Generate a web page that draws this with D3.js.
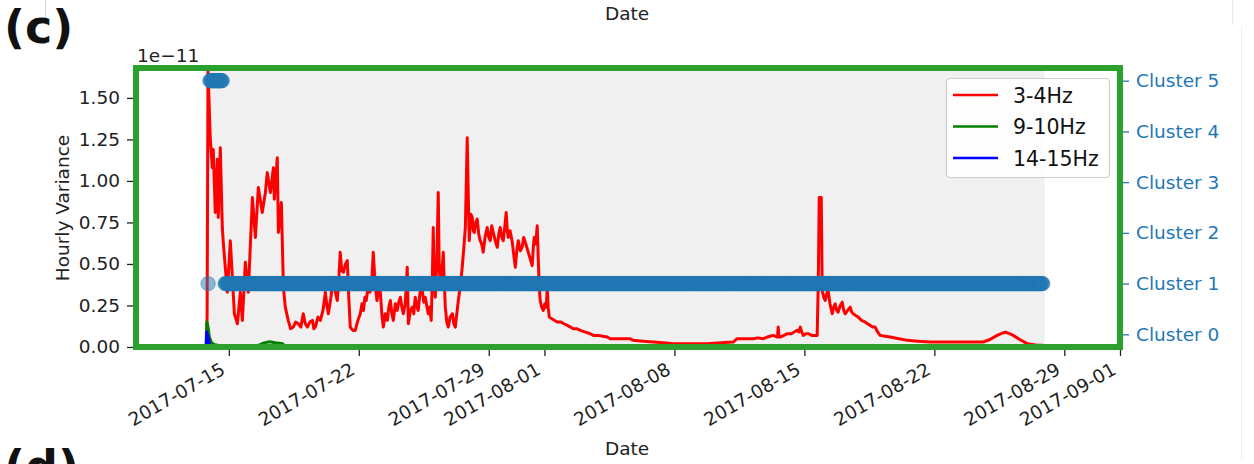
<!DOCTYPE html>
<html><head><meta charset="utf-8">
<script src="https://cdn.jsdelivr.net/npm/d3@7"></script>
<style>
body{margin:0;background:#fff;}
svg{display:block;font-family:"DejaVu Sans",sans-serif;}
</style></head><body>
<svg id="c" width="1254" height="464"></svg>
<script>
// ---------------- data ----------------
const baseDate = "2017-07-15";           // day offsets below are relative to this date
const xDomain = ["2017-07-10", "2017-09-01"];
const xTicks = ["2017-07-15","2017-07-22","2017-07-29","2017-08-01","2017-08-08","2017-08-15","2017-08-22","2017-08-29","2017-09-01"];
const yTicks = [0, 0.25, 0.5, 0.75, 1.0, 1.25, 1.5];
const yMax = 1.68;                        // in units of 1e-11
const clusterTicks = [0, 1, 2, 3, 4, 5];
const clusterLabels = ["Cluster 0","Cluster 1","Cluster 2","Cluster 3","Cluster 4","Cluster 5"];
const seriesNames = ["3-4Hz", "9-10Hz", "14-15Hz"];
const seriesColors = ["#ff0000", "#008000", "#0000ff"];

// [day offset, hourly variance (x1e-11)]
const series34 = [[-1.20,0.02],[-1.17,0.19],[-1.12,1.66],[-1.00,1.26],[-0.89,1.08],[-0.84,1.19],[-0.73,0.81],[-0.62,1.13],[-0.57,0.78],[-0.46,1.20],[-0.35,0.72],[-0.30,0.63],[-0.08,0.33],[0.08,0.64],[0.19,0.42],[0.30,0.20],[0.46,0.14],[0.62,0.33],[0.73,0.16],[0.89,0.51],[1.05,0.33],[1.27,0.90],[1.43,0.66],[1.59,0.96],[1.80,0.81],[1.97,0.93],[2.07,1.05],[2.24,0.93],[2.40,1.08],[2.45,0.89],[2.61,1.14],[2.67,0.69],[2.83,0.87],[2.94,0.36],[3.04,0.24],[3.20,0.16],[3.33,0.11],[3.47,0.12],[3.60,0.15],[3.74,0.14],[3.88,0.12],[4.01,0.20],[4.12,0.14],[4.23,0.12],[4.36,0.15],[4.50,0.16],[4.58,0.11],[4.66,0.12],[4.80,0.18],[4.93,0.16],[5.07,0.22],[5.20,0.33],[5.28,0.25],[5.36,0.20],[5.50,0.30],[5.63,0.42],[5.74,0.33],[5.84,0.28],[5.92,0.40],[6.00,0.57],[6.08,0.46],[6.17,0.45],[6.28,0.50],[6.38,0.52],[6.46,0.30],[6.54,0.12],[6.68,0.10],[6.81,0.10],[6.95,0.16],[7.08,0.20],[7.17,0.26],[7.25,0.22],[7.33,0.30],[7.40,0.28],[7.50,0.36],[7.60,0.33],[7.70,0.40],[7.78,0.57],[7.88,0.38],[7.98,0.28],[8.08,0.36],[8.16,0.33],[8.24,0.20],[8.32,0.12],[8.43,0.20],[8.54,0.16],[8.62,0.24],[8.70,0.28],[8.78,0.20],[8.86,0.16],[8.97,0.26],[9.07,0.22],[9.15,0.27],[9.24,0.30],[9.32,0.24],[9.40,0.20],[9.50,0.26],[9.61,0.48],[9.67,0.14],[9.78,0.22],[9.88,0.24],[9.96,0.20],[10.04,0.30],[10.12,0.25],[10.20,0.22],[10.30,0.33],[10.42,0.34],[10.50,0.27],[10.58,0.30],[10.66,0.25],[10.74,0.20],[10.82,0.24],[10.90,0.16],[10.96,0.40],[11.01,0.72],[11.06,0.42],[11.12,0.30],[11.20,0.50],[11.28,0.93],[11.33,0.50],[11.39,0.36],[11.47,0.45],[11.55,0.57],[11.60,0.40],[11.66,0.24],[11.74,0.15],[11.82,0.12],[11.92,0.18],[12.04,0.20],[12.12,0.14],[12.20,0.12],[12.28,0.20],[12.36,0.28],[12.46,0.36],[12.57,0.48],[12.66,0.60],[12.74,0.72],[12.84,1.26],[12.90,0.90],[12.95,0.64],[13.03,0.80],[13.11,0.78],[13.16,0.70],[13.22,0.69],[13.30,0.75],[13.38,0.77],[13.46,0.68],[13.54,0.64],[13.62,0.62],[13.70,0.57],[13.80,0.66],[13.92,0.72],[14.00,0.66],[14.08,0.64],[14.16,0.73],[14.24,0.69],[14.35,0.64],[14.46,0.60],[14.54,0.68],[14.62,0.72],[14.70,0.66],[14.78,0.64],[14.86,0.72],[14.94,0.81],[15.00,0.70],[15.05,0.66],[15.15,0.70],[15.27,0.63],[15.35,0.55],[15.43,0.48],[15.51,0.58],[15.59,0.64],[15.70,0.58],[15.80,0.60],[15.88,0.66],[15.97,0.63],[16.05,0.60],[16.13,0.57],[16.24,0.53],[16.34,0.49],[16.40,0.60],[16.45,0.66],[16.53,0.62],[16.61,0.73],[16.67,0.52],[16.72,0.36],[16.77,0.28],[16.85,0.24],[16.94,0.22],[17.02,0.26],[17.10,0.24],[17.15,0.36],[17.20,0.24],[17.26,0.18],[17.40,0.17],[17.55,0.16],[17.69,0.15],[17.90,0.15],[18.05,0.14],[18.23,0.13],[18.40,0.12],[18.55,0.11],[18.75,0.11],[18.93,0.10],[19.20,0.09],[19.47,0.08],[19.63,0.07],[19.90,0.07],[20.15,0.065],[20.38,0.06],[20.54,0.05],[20.90,0.05],[21.25,0.05],[21.62,0.05],[21.78,0.04],[22.30,0.035],[22.86,0.03],[23.40,0.025],[23.94,0.02],[24.80,0.02],[25.77,0.02],[26.50,0.025],[27.17,0.03],[27.38,0.05],[27.80,0.05],[28.24,0.05],[28.50,0.055],[28.78,0.05],[29.00,0.06],[29.32,0.07],[29.55,0.06],[29.59,0.12],[29.64,0.06],[29.70,0.06],[29.90,0.07],[30.08,0.08],[30.30,0.08],[30.45,0.09],[30.61,0.10],[30.70,0.09],[30.78,0.12],[30.86,0.09],[30.94,0.07],[31.08,0.08],[31.21,0.08],[31.40,0.07],[31.58,0.07],[31.69,0.07],[31.75,0.40],[31.80,0.90],[31.91,0.90],[31.96,0.34],[32.04,0.30],[32.12,0.28],[32.20,0.32],[32.28,0.34],[32.38,0.26],[32.50,0.20],[32.58,0.24],[32.66,0.26],[32.74,0.22],[32.82,0.21],[32.93,0.25],[33.04,0.27],[33.12,0.22],[33.20,0.20],[33.33,0.22],[33.47,0.24],[33.55,0.21],[33.63,0.20],[33.76,0.19],[33.90,0.18],[34.08,0.16],[34.28,0.15],[34.40,0.14],[34.55,0.13],[34.68,0.12],[34.81,0.12],[34.95,0.09],[35.08,0.07],[35.35,0.065],[35.62,0.06],[36.10,0.05],[36.54,0.04],[37.10,0.035],[37.78,0.03],[38.50,0.03],[39.23,0.03],[39.90,0.03],[40.63,0.03],[41.00,0.045],[41.38,0.07],[41.60,0.08],[41.82,0.09],[42.05,0.08],[42.25,0.07],[42.60,0.045],[43.00,0.02],[43.54,0.01],[43.86,0.01]];
const series910 = [[-1.22,0.0],[-1.18,0.15],[-1.12,0.12],[-1.05,0.06],[-0.95,0.03],[-0.80,0.015],[-0.50,0.008],[0.00,0.005],[1.00,0.004],[1.60,0.01],[1.90,0.025],[2.20,0.032],[2.50,0.026],[2.90,0.02],[3.00,0.005],[8.00,0.004],[15.0,0.006],[17.0,0.005],[20.0,0.003],[30.0,0.002],[43.86,0.002]];
const series1415 = [[-1.22,0.0],[-1.20,0.09],[-1.12,0.06],[-1.05,0.02],[-0.95,0.008],[-0.50,0.003],[43.86,0.001]];

// cluster label runs: [start day, end day, cluster], sampled hourly
const clusterRuns = [[-1.12,-1.12,1],[-1.02,-0.32,5],[-0.20,43.86,1]];
const sampleStepDays = 1 / 24;
const shadeSpan = [-1.25, 43.95];

// ---------------- drawing ----------------
const svg = d3.select("#c");
const parse = d3.timeParse("%Y-%m-%d");
const base = parse(baseDate);
const dayToDate = d => new Date(base.getTime() + d * 864e5);

const L = 136, R = 1120, T = 68, B = 347;
const x = d3.scaleTime().domain(xDomain.map(parse)).range([L, R]);
const y = d3.scaleLinear().domain([0, yMax]).range([B, T]);
const y2 = d3.scaleLinear().domain([-0.25, 5.25]).range([B, T]);

const FS = 18.5;

svg.append("defs").append("clipPath").attr("id","clip")
  .append("rect").attr("x",L).attr("y",T).attr("width",R-L).attr("height",B-T);

// faint separators (figure edges)
svg.append("line").attr("x1",45.5).attr("x2",45.5).attr("y1",0).attr("y2",25).attr("stroke","#d8d8d8");
svg.append("line").attr("x1",1232.5).attr("x2",1232.5).attr("y1",0).attr("y2",25).attr("stroke","#e8e8e8");
svg.append("line").attr("x1",1241.5).attr("x2",1241.5).attr("y1",26).attr("y2",460).attr("stroke","#f0f0f0");

// shaded span
svg.append("rect").attr("clip-path","url(#clip)")
  .attr("x", x(dayToDate(shadeSpan[0]))).attr("y", T)
  .attr("width", x(dayToDate(shadeSpan[1])) - x(dayToDate(shadeSpan[0])))
  .attr("height", B - T).attr("fill", "#f0f0f0");

// lines
const line = d3.line().x(d => x(dayToDate(d[0]))).y(d => y(d[1]));
const gLines = svg.append("g").attr("clip-path","url(#clip)");
[series34, series910, series1415].forEach((s, i) => {
  gLines.append("path").datum(s).attr("d", line)
    .attr("fill","none").attr("stroke", seriesColors[i])
    .attr("stroke-width", 3).attr("stroke-linejoin","round");
});

// scatter of cluster labels
const pts = [];
clusterRuns.forEach(([s, e, c]) => {
  d3.range(s, e + 1e-9, sampleStepDays).forEach(d => pts.push([dayToDate(d), c]));
});
svg.append("g").attr("clip-path","url(#clip)").selectAll("circle").data(pts).join("circle")
  .attr("cx", d => x(d[0])).attr("cy", d => y2(d[1])).attr("r", 7.2)
  .attr("fill", "#1f77b4").attr("fill-opacity", 0.5)
  .attr("stroke", "#1f77b4").attr("stroke-opacity", 0.5).attr("stroke-width", 1);

// axes
const axL = svg.append("g").attr("transform", `translate(${L},0)`)
  .call(d3.axisLeft(y).tickValues(yTicks).tickFormat(d3.format(".2f")).tickSize(9).tickPadding(7));
const axR = svg.append("g").attr("transform", `translate(${R},0)`)
  .call(d3.axisRight(y2).tickValues(clusterTicks).tickFormat(d => clusterLabels[d]).tickSize(9).tickPadding(7));
const axB = svg.append("g").attr("transform", `translate(0,${B})`)
  .call(d3.axisBottom(x).tickValues(xTicks.map(parse)).tickFormat(d3.timeFormat("%Y-%m-%d")).tickSize(9));
[axL, axR, axB].forEach(g => {
  g.select(".domain").remove();
  g.selectAll("text").attr("font-size", FS).attr("font-family", "DejaVu Sans");
  g.selectAll("line").attr("stroke-width", 1.3);
});
axL.selectAll("line").attr("stroke", "#222");
axL.selectAll("text").attr("fill", "#222");
axB.selectAll("line").attr("stroke", "#222");
axR.selectAll("line").attr("stroke", "#1f77b4");
axR.selectAll("text").attr("fill", "#1f77b4");
axB.selectAll("text")
  .attr("fill", "#222")
  .attr("text-anchor", "end")
  .attr("y", 0).attr("dy", 0)
  .attr("transform", "translate(-3,26) rotate(-30)");

// frame
svg.append("rect").attr("x", L).attr("y", T).attr("width", R - L).attr("height", B - T)
  .attr("fill", "none").attr("stroke", "#2ca02c").attr("stroke-width", 6);

// legend
const lg = svg.append("g");
lg.append("rect").attr("x", 946.5).attr("y", 78.5).attr("width", 163).attr("height", 99).attr("rx", 4)
  .attr("fill", "#fff").attr("fill-opacity", 0.85).attr("stroke", "#cccccc").attr("stroke-width", 1.2);
seriesNames.forEach((n, i) => {
  const yy = 95 + i * 31.5;
  lg.append("line").attr("x1", 953).attr("x2", 998).attr("y1", yy).attr("y2", yy)
    .attr("stroke", seriesColors[i]).attr("stroke-width", 2.6);
  lg.append("text").attr("x", 1013).attr("y", yy + 7.5).attr("font-size", 20.5).attr("fill", "#111").text(n);
});

// texts
svg.append("text").attr("x", 4).attr("y", 43).attr("font-size", 46).attr("font-weight", "bold").attr("fill","#111").text("(c)");
svg.append("text").attr("x", 4).attr("y", 483).attr("font-size", 46).attr("font-weight", "bold").attr("fill","#111").text("(d)");
svg.append("text").attr("x", 627).attr("y", 20).attr("text-anchor", "middle").attr("font-size", FS).attr("fill","#222").text("Date");
svg.append("text").attr("x", 627).attr("y", 455).attr("text-anchor", "middle").attr("font-size", FS).attr("fill","#222").text("Date");
svg.append("text").attr("x", 137).attr("y", 62).attr("font-size", FS).attr("fill","#222").text("1e\u221211");
svg.append("text").attr("transform", "translate(69,208) rotate(-90)").attr("text-anchor", "middle")
  .attr("font-size", FS).attr("fill","#222").text("Hourly Variance");
</script>
</body></html>
